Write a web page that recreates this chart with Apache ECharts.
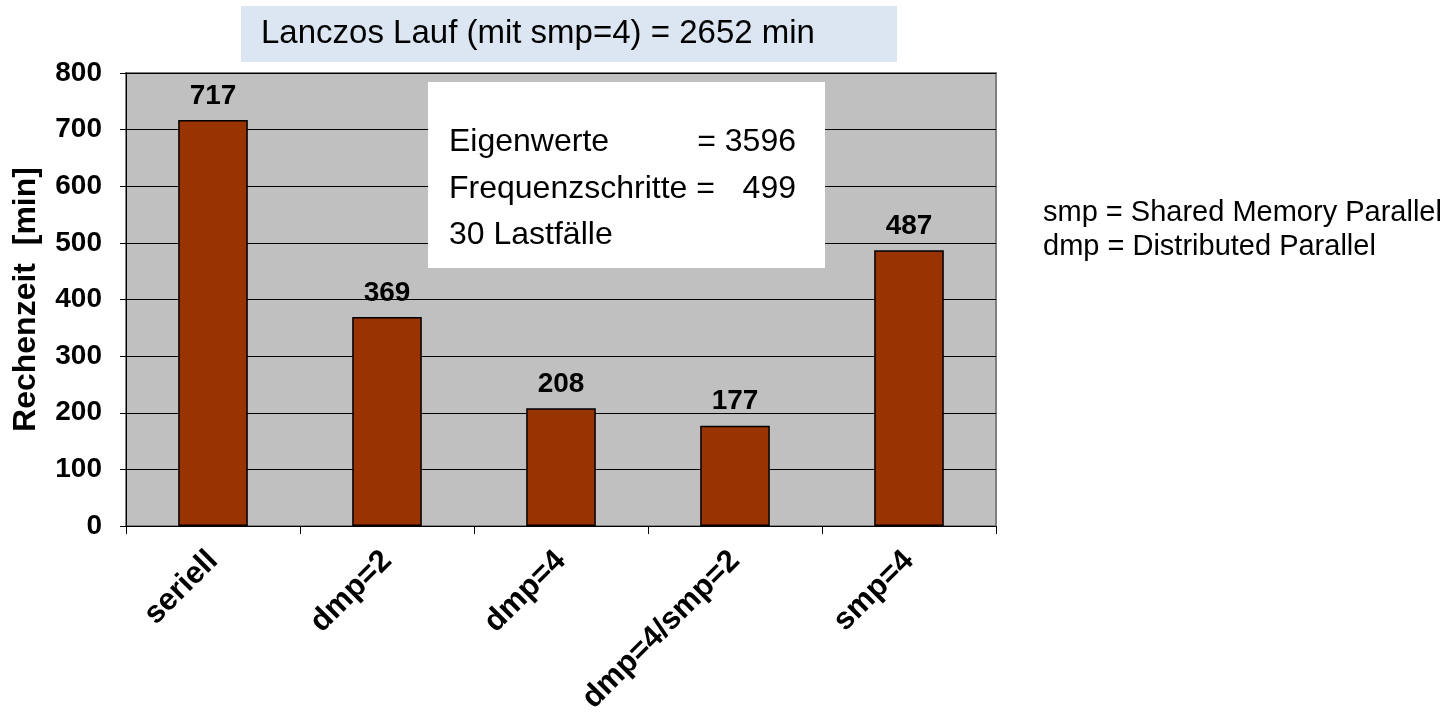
<!DOCTYPE html>
<html>
<head>
<meta charset="utf-8">
<script src="https://cdn.jsdelivr.net/npm/echarts@6/dist/echarts.min.js"></script>
<style>
  html, body { margin: 0; padding: 0; background: #fff; }
  #chart { width: 1449px; height: 714px; }
</style>
</head>
<body>
<div id="chart"></div>
<script>
const categories = ['seriell', 'dmp=2', 'dmp=4', 'dmp=4/smp=2', 'smp=4'];
const runtimes = [717, 369, 208, 177, 487];
const yTicks = { min: 0, max: 800, interval: 100 };

const FONT = "'Liberation Sans', Arial, sans-serif";

const chart = echarts.init(document.getElementById('chart'), null, { renderer: 'canvas' });

chart.setOption({
  animation: false,
  textStyle: { fontFamily: FONT },
  grid: {
    left: 126, right: 453, top: 73, bottom: 188,
    containLabel: false,
    outerBoundsMode: 'none',
    show: true,
    backgroundColor: '#C0C0C0',
    borderColor: '#808080',
    borderWidth: 2,
  },
  xAxis: {
    type: 'category',
    data: categories,
    axisLine: { lineStyle: { color: '#000', width: 1 } },
    axisTick: { show: true, length: 8, lineStyle: { color: '#000' } },
    axisLabel: {
      interval: 0, rotate: 45, margin: 30,
      color: '#000', fontWeight: 'bold', fontSize: 31, fontFamily: FONT,
    },
  },
  yAxis: {
    type: 'value',
    min: yTicks.min, max: yTicks.max, interval: yTicks.interval,
    name: 'Rechenzeit  [min]',
    nameLocation: 'middle',
    nameGap: 84,
    nameTextStyle: { color: '#000', fontWeight: 'bold', fontSize: 32, fontFamily: FONT },
    axisLine: { show: true, lineStyle: { color: '#000', width: 1 } },
    axisTick: { show: true, inside: false, length: 6, lineStyle: { color: '#000' } },
    axisLabel: { margin: 24, color: '#000', fontWeight: 'bold', fontSize: 28, fontFamily: FONT },
    splitLine: { show: true, lineStyle: { color: '#000', width: 1 } },
  },
  series: [
    {
      type: 'bar',
      data: runtimes,
      barWidth: '40%',
      itemStyle: { color: '#993300', borderColor: '#000', borderWidth: 1.5 },
      label: {
        show: true, position: 'top', distance: 10,
        color: '#000', fontWeight: 'bold', fontSize: 28, fontFamily: FONT,
      },
    },
  ],
  graphic: [
    {
      type: 'rect', left: 241, top: 6, z: 10,
      shape: { width: 656, height: 56 },
      style: { fill: '#DCE6F2' },
    },
    {
      type: 'text', x: 261, y: 34, z: 11,
      style: { text: 'Lanczos Lauf (mit smp=4) = 2652 min', fill: '#000', font: '33px ' + FONT, textVerticalAlign: 'middle' },
    },
    {
      type: 'rect', left: 428, top: 82, z: 10,
      shape: { width: 397, height: 186 },
      style: { fill: '#fff' },
    },
    {
      type: 'text', x: 449, y: 142, z: 11,
      style: { text: 'Eigenwerte', fill: '#000', font: '32px ' + FONT, textVerticalAlign: 'middle' },
    },
    {
      type: 'text', x: 796, y: 142, z: 11,
      style: { text: '= 3596', fill: '#000', font: '32px ' + FONT, textAlign: 'right', textVerticalAlign: 'middle' },
    },
    {
      type: 'text', x: 449, y: 189, z: 11,
      style: { text: 'Frequenzschritte =', fill: '#000', font: '32px ' + FONT, textVerticalAlign: 'middle' },
    },
    {
      type: 'text', x: 796, y: 189, z: 11,
      style: { text: '499', fill: '#000', font: '32px ' + FONT, textAlign: 'right', textVerticalAlign: 'middle' },
    },
    {
      type: 'text', x: 449, y: 235, z: 11,
      style: { text: '30 Lastfälle', fill: '#000', font: '32px ' + FONT, textVerticalAlign: 'middle' },
    },
    {
      type: 'text', x: 1043, y: 213, z: 11,
      style: { text: 'smp = Shared Memory Parallel', fill: '#000', font: '29px ' + FONT, textVerticalAlign: 'middle' },
    },
    {
      type: 'text', x: 1043, y: 247, z: 11,
      style: { text: 'dmp = Distributed Parallel', fill: '#000', font: '29px ' + FONT, textVerticalAlign: 'middle' },
    },
  ],
});
</script>
</body>
</html>
